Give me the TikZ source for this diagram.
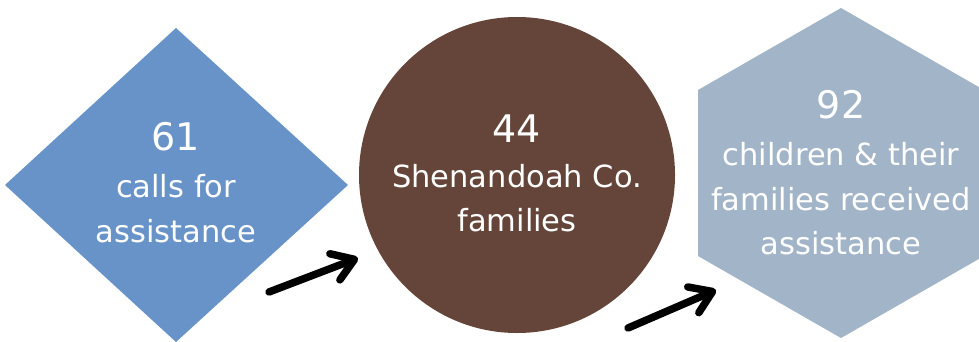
\documentclass[tikz,border=0pt]{standalone}
\usepackage{fontspec}
\setmainfont{DejaVu Sans}
\usetikzlibrary{arrows.meta}
\definecolor{diablue}{HTML}{6793C8}
\definecolor{cirbrown}{HTML}{654539}
\definecolor{hexgrey}{HTML}{A2B4C8}
\tikzset{
  big/.style={text=white,anchor=base,inner sep=0pt,font=\fontsize{38}{40}\selectfont},
  small/.style={text=white,anchor=base,inner sep=0pt,font=\fontsize{30.5}{32}\selectfont},
  arr/.style={line width=7.5pt,line cap=round,-{Straight Barb[round,length=21pt,width=28pt]}}
}
\begin{document}
\begin{tikzpicture}[x=1pt,y=-1pt]
\useasboundingbox (0,0) rectangle (979,341);
\fill[white] (0,0) rectangle (979,341);
% diamond
\fill[diablue] (5,185) -- (176,28) -- (348,185) -- (176,342) -- cycle;
% circle
\fill[cirbrown] (517,175) circle[radius=158];
% hexagon
\begin{scope}
\clip (0,0) rectangle (979,341);
\fill[hexgrey] (841,8) -- (984,90) -- (984,256) -- (841,338) -- (698,256) -- (698,90) -- cycle;
\end{scope}
% texts
\node[big] (d1) at (176,150) {61};
\node[small] (d2) at (176,197) {calls for};
\node[small] (d3) at (176,242) {assistance};
\node[big] (c1) at (517,142) {44};
\node[small] (c2) at (517,187) {Shenandoah Co.};
\node[small] (c3) at (517,231) {families};
\node[big] (h1) at (841,118) {92};
\node[small] (h2) at (841,165) {children \& their};
\node[small] (h3) at (841,210) {families received};
\node[small] (h4) at (841,254) {assistance};
% arrows
\coordinate (a1s) at (269,292);
\coordinate (a1e) at (358,258);
\coordinate (a2s) at (628,328);
\coordinate (a2e) at (716,290);
\draw[arr] (a1s) -- (a1e);
\draw[arr] (a2s) -- (a2e);
\end{tikzpicture}
\end{document}
